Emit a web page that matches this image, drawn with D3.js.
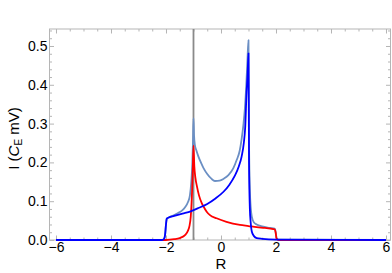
<!DOCTYPE html>
<html>
<head>
<meta charset="utf-8">
<script src="https://cdn.jsdelivr.net/npm/d3@7"></script>
<style>
  body { margin: 0; background: #fff; }
  svg { display: block; font-family: "Liberation Sans", Arial, sans-serif; }
  .axis path { display: none; }
  .axis line { stroke: #b5b5b5; }
  .axis text { fill: #000; font-size: 14px; }
</style>
</head>
<body>
<div id="chart"></div>
<script>
// values
const redR = [-6, -2, -1.7, -1.5, -1.4, -1.3, -1.2, -1.15, -1.1, -1.06, -1.03, -1.0, -0.97, -0.93, -0.88, -0.8, -0.7, -0.6, -0.52, -0.4, -0.16, 0.2, 0.69, 1.0, 1.3, 1.6, 1.9, 1.96, 1.99, 2.02, 2.1, 6];
const redI = [0, 0, 0.002, 0.005, 0.008, 0.013, 0.024, 0.035, 0.06, 0.11, 0.17, 0.243, 0.19, 0.16, 0.14, 0.115, 0.095, 0.082, 0.073, 0.064, 0.056, 0.047, 0.039, 0.036, 0.033, 0.031, 0.028, 0.027, 0.018, 0.004, 0, 0];

const blueR = [-6, -2.15, -2.07, -2.03, -2.0, -1.97, -1.9, -1.7, -1.4, -1.1, -0.8, -0.5, -0.2, 0.1, 0.3, 0.5, 0.65, 0.75, 0.83, 0.88, 0.93, 0.97, 1.0, 1.02, 1.05, 1.08, 1.12, 1.2, 1.3, 1.5, 2, 6];
const blueI = [0, 0, 0.003, 0.015, 0.04, 0.055, 0.058, 0.062, 0.068, 0.074, 0.083, 0.093, 0.107, 0.125, 0.142, 0.165, 0.19, 0.215, 0.25, 0.29, 0.38, 0.43, 0.481, 0.2, 0.08, 0.045, 0.022, 0.01, 0.005, 0.003, 0.001, 0];

const totalR = [-6, -2.15, -2.07, -2.03, -2.0, -1.97, -1.9, -1.7, -1.5, -1.4, -1.3, -1.2, -1.13, -1.08, -1.04, -1.02, -1.0, -0.98, -0.95, -0.9, -0.82, -0.72, -0.64, -0.5, -0.35, -0.22, -0.05, 0.1, 0.27, 0.45, 0.57, 0.68, 0.75, 0.82, 0.87, 0.92, 0.96, 1.0, 1.02, 1.05, 1.08, 1.12, 1.2, 1.3, 1.5, 1.7, 1.9, 1.96, 1.99, 2.02, 2.1, 6];
const totalI = [0, 0, 0.003, 0.015, 0.04, 0.055, 0.058, 0.064, 0.072, 0.077, 0.085, 0.098, 0.115, 0.15, 0.2, 0.25, 0.314, 0.27, 0.245, 0.232, 0.215, 0.198, 0.186, 0.17, 0.158, 0.152, 0.153, 0.158, 0.167, 0.185, 0.206, 0.23, 0.26, 0.3, 0.34, 0.4, 0.46, 0.515, 0.25, 0.13, 0.085, 0.06, 0.045, 0.04, 0.035, 0.032, 0.03, 0.029, 0.02, 0.005, 0.001, 0];

const xTicks = [-6, -4, -2, 0, 2, 4, 6];
const yTicks = [0, 0.1, 0.2, 0.3, 0.4, 0.5];
const markerR = -1;

const width = 392;
const height = 273;
const margin = { top: 29, right: 1.5, bottom: 33, left: 49.5 };

const svg = d3.select('#chart')
  .append('svg')
  .attr('width', width)
  .attr('height', height);

const xScale = d3.scaleLinear()
  .domain([-6.236, 6.164])
  .range([margin.left, width - margin.right]);

const yScale = d3.scaleLinear()
  .domain([0, 0.5438])
  .range([height - margin.bottom, margin.top]);

const plotW = width - margin.left - margin.right;
const plotH = height - margin.top - margin.bottom;

// minor tick positions
const xMinor = d3.range(-6, 6.01, 0.5).filter((v) => !xTicks.includes(v));
const yMinor = d3.range(0, 0.541, 0.02).filter((v) => Math.abs(v * 10 - Math.round(v * 10)) > 1e-6);

function addAxis(axisFn, transform, ticks, minor, fmt) {
  svg.append('g')
    .attr('class', 'axis')
    .attr('transform', transform)
    .call(axisFn.tickValues(minor).tickSize(-2.5).tickFormat(''));
  return svg.append('g')
    .attr('class', 'axis')
    .attr('transform', transform)
    .call(axisFn.tickValues(ticks).tickSize(-4.5).tickPadding(2).tickFormat(fmt));
}

const fmtX = (d) => (d < 0 ? '\u2212' + Math.abs(d) : String(d));
const fmtY = d3.format('.1f');

addAxis(d3.axisBottom(xScale), `translate(0,${yScale(0)})`, xTicks, xMinor, fmtX);
addAxis(d3.axisTop(xScale), `translate(0,${margin.top})`, xTicks, xMinor, '');
addAxis(d3.axisLeft(yScale), `translate(${margin.left},0)`, yTicks, yMinor, fmtY);
addAxis(d3.axisRight(yScale), `translate(${width - margin.right},0)`, yTicks, yMinor, '');

svg.append('rect')
  .attr('x', margin.left)
  .attr('y', margin.top)
  .attr('width', plotW)
  .attr('height', yScale(0) - margin.top)
  .attr('fill', 'none')
  .attr('stroke', '#b5b5b5')
  .attr('stroke-width', 1);

// vertical marker
svg.append('line')
  .attr('x1', xScale(markerR))
  .attr('x2', xScale(markerR))
  .attr('y1', margin.top)
  .attr('y2', yScale(0))
  .attr('stroke', '#8a8a8a')
  .attr('stroke-width', 1.8);

const line = d3.line()
  .x((d) => xScale(d[0]))
  .y((d) => yScale(d[1]))
  .curve(d3.curveMonotoneX);

const series = [
  { r: totalR, i: totalI, color: '#6b8fc4' },
  { r: redR, i: redI, color: '#ff0000' },
  { r: blueR, i: blueI, color: '#0000ff' },
];

series.forEach((s) => {
  svg.append('path')
    .datum(d3.zip(s.r, s.i))
    .attr('fill', 'none')
    .attr('stroke', s.color)
    .attr('stroke-width', 1.8)
    .attr('stroke-linejoin', 'round')
    .attr('d', line);
});

svg.append('text')
  .attr('x', xScale(0))
  .attr('y', 269)
  .attr('text-anchor', 'middle')
  .attr('font-size', 15)
  .text('R');

const yLabel = svg.append('text')
  .attr('transform', `translate(19,${(margin.top + yScale(0)) / 2 + 4}) rotate(-90)`)
  .attr('text-anchor', 'middle')
  .attr('font-size', 15);
yLabel.append('tspan').text('I (');
yLabel.append('tspan').attr('font-style', 'italic').text('C');
yLabel.append('tspan').attr('font-size', 10).attr('dy', 3).text('E');
yLabel.append('tspan').attr('dy', -3).text(' mV)');
</script>
</body>
</html>
